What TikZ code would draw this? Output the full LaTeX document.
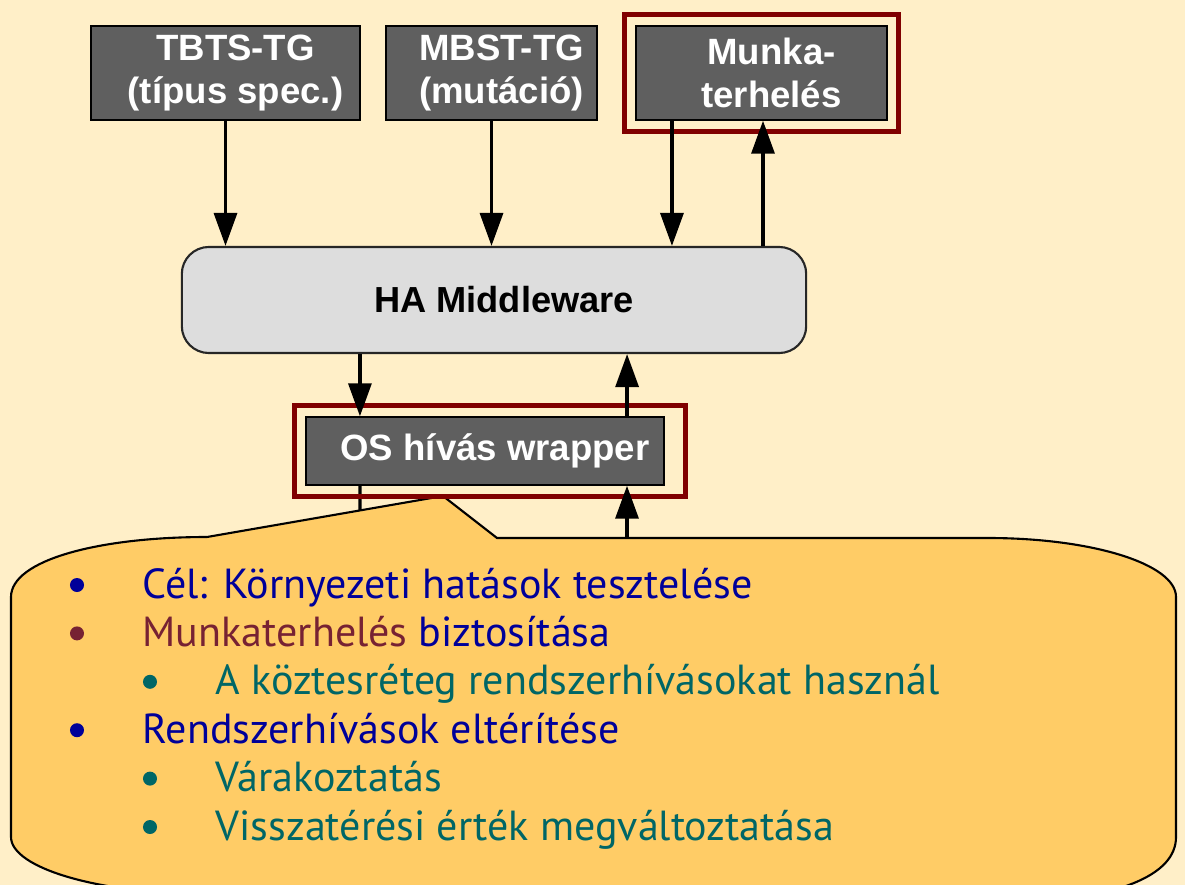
\documentclass[tikz,border=0pt]{standalone}
\usepackage{fontspec}
\usepackage{tikz}
\usetikzlibrary{arrows.meta, positioning, calc, fit}
\newfontfamily\boxfont{Liberation Sans}
\newfontfamily\notefont{PT Sans}
\definecolor{slidebg}{RGB}{255,239,200}
\definecolor{boxgrey}{RGB}{95,95,95}
\definecolor{mwgrey}{RGB}{221,221,221}
\definecolor{framered}{RGB}{128,0,0}
\definecolor{notefill}{RGB}{255,204,102}
\definecolor{noteblue}{RGB}{0,0,153}
\definecolor{notered}{RGB}{119,34,51}
\definecolor{noteteal}{RGB}{0,102,102}
\newcommand{\lpad}{\hspace*{0.2cm}}

\begin{document}
\begin{tikzpicture}[
    x=0.01cm, y=-0.01cm,
    greybox/.style={draw=black, line width=0.4pt, fill=boxgrey, text=white, align=center, inner sep=0pt, minimum height=0.94cm, font=\boxfont\bfseries\fontsize{10.4}{12.4}\selectfont},
    layerbox/.style={draw=black!85, line width=0.6pt, fill=mwgrey, rounded corners=0.27cm, inner sep=0pt, font=\boxfont\bfseries\fontsize{10.3}{12.3}\selectfont},
    redframe/.style={draw=framered, line width=0.05cm, inner sep=0.11cm},
    arr/.style={line width=0.033cm, -{Triangle[length=0.33cm, width=0.23cm]}},
    notebox/.style={draw=black, line width=0.6pt, fill=notefill},
    notetext/.style={anchor=base west, inner sep=0pt, font=\notefont\fontsize{11.95}{14}\selectfont}
]
    \useasboundingbox (0,0) rectangle (1185,885);
    \clip (0,0) rectangle (1185,885);
    \fill[slidebg] (0,0) rectangle (1185,885);

    % boxes
    \node[greybox, minimum width=2.69cm] (tbts) at (225.5,73) {\lpad TBTS-TG\\\lpad(típus spec.)};
    \node[greybox, minimum width=2.11cm] (mbst) at (491.5,73) {\lpad MBST-TG\\\lpad(mutáció)};
    \node[greybox, minimum width=2.51cm] (munka) at (761.5,73) {\lpad Munka-\\\lpad terhelés};
    \node[layerbox, minimum width=6.24cm, minimum height=1.06cm] (mw) at (494,300) {\lpad HA Middleware};
    \node[greybox, minimum width=3.58cm, minimum height=0.68cm] (wrap) at (485,451) {\lpad OS hívás wrapper};

    % line into the callout
    \coordinate (wrapdown) at (360,530);
    \draw[line width=0.033cm] ([xshift=-1.25cm]wrap.south) -- (wrapdown);

    % callout
    \draw[notebox] (443,496) -- (497,538) -- (988,538)
        .. controls (1092,538) and (1176,564) .. (1176,597) -- (1176,837)
        .. controls (1176,875) and (1120,900) .. (1000,905) -- (207,894)
        .. controls (99,894) and (11,868) .. (11,837) -- (11,597)
        .. controls (11,560) and (99,537) .. (207,537) -- cycle;
    \coordinate (calltop) at (627,538);

    % frames
    \coordinate (wrapright) at ([xshift=0.1cm]wrap.east);
    \node[redframe, fit=(munka)] (munkaframe) {};
    \node[redframe, fit=(wrap) (wrapright)] (wrapframe) {};

    % arrows
    \draw[arr] (tbts.south) -- (tbts.south |- mw.north);
    \draw[arr] (mbst.south) -- (mbst.south |- mw.north);
    \draw[arr] ([xshift=-0.895cm]munka.south) -- ([xshift=-0.895cm]munka.south |- mw.north);
    \draw[arr] ([xshift=0.015cm]munka.south |- mw.north) -- ([xshift=0.015cm]munka.south);
    \draw[arr] ([xshift=-1.25cm]wrap.north |- mw.south) -- ([xshift=-1.25cm]wrap.north);
    \draw[arr] ([xshift=1.42cm]wrap.north) -- ([xshift=1.42cm]wrap.north |- mw.south);
    \draw[arr] (calltop) -- (calltop |- wrap.south);

    % callout text
    \foreach \bx/\tx/\yy/\bc/\tc/\txt [count=\i] in {
        77/142/598/noteblue/noteblue/{Cél: Környezeti hatások tesztelése},
        77/142/646.4/notered/noteblue/{\textcolor{notered}{Munkaterhelés} biztosítása},
        150/215/694.8/noteteal/noteteal/{A köztesréteg rendszerhívásokat használ},
        77/142/743.2/noteblue/noteblue/{Rendszerhívások eltérítése},
        150/215/791.6/noteteal/noteteal/{Várakoztatás},
        150/215/840/noteteal/noteteal/{Visszatérési érték megváltoztatása}}
    {
        \fill[\bc] (\bx,\yy-13) circle (0.07cm);
        \node[notetext, text=\tc] (item\i) at (\tx,\yy) {\txt};
    }
\end{tikzpicture}
\end{document}
